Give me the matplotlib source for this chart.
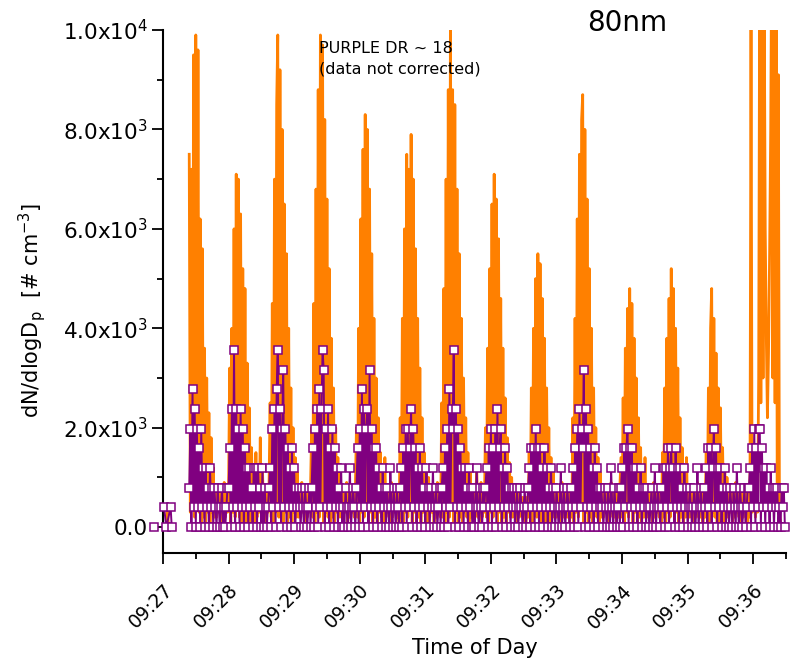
import numpy as np
import matplotlib
matplotlib.use("Agg")
import matplotlib.pyplot as plt
import matplotlib.dates as mdates
from matplotlib.ticker import FuncFormatter, MultipleLocator
from datetime import datetime, timedelta

plt.rcParams['font.family'] = ['DejaVu Sans']
plt.rcParams['mathtext.fontset'] = 'dejavusans'

START = datetime(2000, 1, 1, 9, 27, 0)

# orange trace, values in units of 100 cm-3, one sample per second
orange_early_t0 = 3
orange_early = [0, 4, 0]
orange_t0 = 24
orange = [
    75, 3, 72, 5, 95, 2, 99, 4, 96, 3, 62, 1, 56, 2, 36, 0, 30, 3, 23, 1, 18, 3, 12, 2,
    8, 2, 8, 3, 8, 1, 8, 2, 9, 2, 8, 3, 8,
    32, 1, 40, 3, 60, 2, 71, 4, 70, 2, 63, 1, 52, 3, 48, 0, 33, 2, 24, 1, 16, 3, 12, 1, 15, 2, 12, 3, 18, 2, 12,
    2, 8, 1, 8, 3, 8,
    25, 2, 45, 1, 70, 3, 85, 99, 2, 92, 4, 80, 1, 65, 3, 55, 0, 40, 2, 28, 1, 20, 3, 14, 2, 11, 2,
    8, 2, 9, 3, 8, 1, 8, 2, 8, 3, 8,
    20, 2, 45, 1, 68, 3, 88, 2, 99, 4, 97, 1, 82, 3, 66, 2, 52, 0, 38, 2, 28, 1, 20, 3, 14, 2, 12, 2,
    8, 2, 8, 3, 9, 1, 8, 2, 8, 3, 8, 2, 8,
    20, 2, 40, 1, 62, 3, 76, 2, 83, 4, 80, 1, 68, 3, 55, 0, 42, 2, 30, 1, 22, 3, 15, 2, 12, 1, 14,
    2, 8, 3, 8, 1, 9, 2, 8, 3, 8, 2, 8, 1,
    22, 2, 42, 1, 60, 3, 75, 2, 72, 4, 79, 1, 70, 3, 56, 0, 42, 2, 32, 1, 22, 3, 15, 2, 12, 1, 10,
    2, 8, 3, 8, 1, 8, 2, 9, 3, 8, 2,
    25, 2, 48, 1, 70, 3, 88, 2, 105, 4, 88, 1, 85, 3, 68, 0, 55, 2, 42, 1, 30, 3, 22, 2, 15, 1, 12, 2,
    8, 2, 8, 3, 12, 2, 8, 1, 9, 2, 8, 3,
    20, 2, 36, 1, 52, 3, 65, 2, 71, 4, 66, 1, 58, 3, 46, 0, 36, 2, 26, 1, 18, 3, 13, 2, 10,
    2, 8, 3, 8, 1, 8, 2, 6, 3, 6, 2, 6, 1, 6, 2,
    15, 2, 28, 1, 40, 3, 50, 2, 55, 4, 53, 1, 46, 3, 38, 0, 28, 2, 20, 1, 14, 3, 11, 2,
    8, 2, 8, 3, 8, 1, 9, 2, 8, 3, 8, 2, 8, 1, 8,
    2, 22, 1, 42, 3, 62, 2, 75, 4, 82, 87, 1, 80, 3, 66, 0, 52, 2, 40, 1, 28, 3, 20, 2, 14, 1, 11, 2,
    8, 2, 8, 3, 8, 1, 8, 2, 9, 3, 8, 2, 8, 1, 8, 2, 8,
    14, 2, 26, 1, 36, 3, 44, 2, 48, 4, 45, 1, 38, 3, 30, 0, 22, 2, 16, 1, 12, 2, 14, 2,
    8, 2, 8, 3, 8, 1, 9, 2, 8, 3, 8, 2, 8, 1,
    15, 2, 28, 1, 38, 3, 46, 2, 52, 4, 48, 1, 40, 3, 32, 0, 22, 2, 16, 1, 12, 2, 14, 2,
    8, 2, 8, 3, 8, 1, 8, 2, 9, 3, 8, 2, 8, 1, 8, 2,
    16, 2, 28, 1, 40, 48, 3, 42, 2, 35, 1, 28, 0, 24, 2, 16, 1, 12, 2, 10,
    2, 8, 3, 8, 1, 8, 2, 9, 3, 8, 2, 8, 1, 8, 2, 8, 3, 8, 1, 8, 2, 102, 3, 8,
    8, 2, 8, 3, 30, 120, 25, 115, 30, 110, 60, 38, 22, 35, 55, 80, 120, 30, 120, 25, 115, 4, 91, 3, 1,
]

# purple trace, values in counting steps of 396 cm-3, one sample per second
purple_step = 396
purple_early_t = [-8, -7, 1, 3, 7, 8]
purple_early = [0, np.nan, 1, 0, 1, 0]
purple_t0 = 24
purple = [
    2, 5, 0, 7, 1, 6, 0, 5, 1, 4, 0, 5, 1, 3, 0, 3, 1, 2, 0, 3, 1, 2, 0, 2,
    1, 0, 2, 1, 0, 1, 2, 0, 1, 0, 1, 2,
    2, 4, 0, 6, 1, 9, 0, 6, 1, 5, 0, 6, 1, 5, 0, 4, 1, 3, 0, 3, 1, 2, 0, 3, 1, 3, 0, 3, 1, 2, 0, 3,
    0, 2, 1, 0, 1, 2,
    3, 0, 5, 1, 6, 0, 7, 9, 1, 6, 0, 5, 8, 1, 5, 0, 4, 1, 3, 0, 4, 1, 3, 0, 2, 1, 2,
    1, 0, 2, 1, 0, 2, 1, 0, 1, 2, 0,
    2, 4, 0, 5, 1, 6, 0, 7, 1, 6, 9, 8, 0, 5, 1, 6, 0, 4, 1, 5, 0, 4, 1, 3, 0, 2, 1, 3,
    0, 1, 0, 2, 1, 0, 1, 3, 0, 1, 2, 1, 0,
    2, 4, 0, 5, 1, 7, 0, 6, 1, 5, 6, 0, 8, 1, 5, 0, 4, 1, 4, 0, 3, 1, 2, 0, 3, 1, 2,
    0, 2, 1, 0, 3, 1, 0, 2, 1, 0, 2, 1, 0,
    2, 3, 0, 4, 1, 5, 0, 5, 1, 4, 6, 0, 5, 1, 4, 0, 3, 1, 4, 0, 3, 1, 2, 0, 3, 1, 2,
    0, 2, 1, 3, 0, 1, 2, 0, 1, 2, 0,
    2, 3, 0, 4, 1, 5, 0, 7, 1, 6, 5, 9, 0, 6, 1, 5, 0, 4, 1, 3, 0, 3, 1, 2, 0, 3, 1, 2,
    0, 2, 0, 1, 3, 1, 0, 2, 1, 0, 2, 1,
    2, 3, 0, 4, 1, 5, 0, 4, 1, 5, 0, 6, 1, 4, 5, 0, 3, 1, 4, 0, 3, 1, 2, 0, 2,
    1, 2, 0, 1, 2, 0, 1, 2, 1, 0, 1, 2, 0, 1, 2,
    3, 0, 4, 1, 4, 0, 5, 1, 4, 0, 4, 1, 3, 0, 4, 1, 3, 0, 2, 1, 3, 0, 2, 1,
    0, 2, 1, 0, 1, 3, 0, 1, 2, 0, 1, 2, 1, 0, 2,
    1, 3, 0, 4, 1, 5, 0, 6, 1, 5, 4, 8, 0, 6, 1, 5, 0, 4, 1, 3, 0, 4, 1, 3, 0, 2, 1, 2,
    1, 0, 2, 1, 0, 2, 1, 0, 3, 1, 0, 2, 1, 0, 1, 2, 0,
    2, 3, 0, 4, 1, 4, 5, 0, 4, 1, 4, 0, 3, 1, 3, 0, 2, 1, 3, 0, 2, 1, 2, 0,
    2, 1, 0, 1, 2, 0, 1, 3, 0, 1, 2, 1, 0, 2,
    1, 3, 0, 3, 1, 4, 0, 3, 4, 1, 3, 0, 4, 1, 3, 0, 3, 1, 2, 0, 3, 1, 2, 0,
    1, 2, 1, 0, 1, 2, 0, 1, 3, 0, 1, 2, 1, 0, 2, 1,
    3, 0, 4, 1, 4, 0, 3, 5, 1, 4, 0, 3, 1, 3, 0, 2, 1, 3, 0, 2,
    1, 0, 2, 1, 0, 2, 1, 0, 3, 1, 0, 2, 1, 0, 1, 2, 0, 1, 2,
    2, 3, 0, 4, 1, 5, 0, 4, 1, 5, 5, 0, 4, 1, 3, 0, 3, 1, 2, 0, 3, 1, 2, 0, 2, 1, 2, 0, 1, 0, 2, 1, 2, 0,
]

y_ticks = [0, 2000, 4000, 6000, 8000, 10000]


def to_dates(t0, n):
    return mdates.date2num([START + timedelta(seconds=int(t0 + i)) for i in range(n)])


def sci_label(v, pos):
    if v == 0:
        return "0.0"
    e = int(np.floor(np.log10(v)))
    return f"{v / 10 ** e:.1f}x10$^{{{e}}}$"


# join the early burst and the main record with a gap
o_x = np.concatenate([to_dates(orange_early_t0, len(orange_early)), [np.nan], to_dates(orange_t0, len(orange))])
o_y = np.concatenate([np.array(orange_early) * 100.0, [np.nan], np.array(orange) * 100.0])

p_early_x = mdates.date2num([START + timedelta(seconds=s) for s in purple_early_t])
p_x = np.concatenate([p_early_x, [np.nan], to_dates(purple_t0, len(purple))])
p_y = np.concatenate([np.array(purple_early) * purple_step, [np.nan], np.array(purple) * purple_step])

fig = plt.figure(figsize=(7.94, 6.64), dpi=100)
ax = fig.add_axes([163 / 794, 111 / 664, 623 / 794, 523 / 664])

ax.plot(o_x, o_y, color='#ff8000', linewidth=2.0, zorder=2)
ax.plot(p_x, p_y, color='#800080', linewidth=1.4, marker='s', markersize=5.5,
        markerfacecolor='white', markeredgecolor='#800080', markeredgewidth=1.1,
        zorder=3, clip_on=False)

ax.set_xlim(mdates.date2num(START), mdates.date2num(START + timedelta(seconds=570)))
ax.set_ylim(-520, 10000)

ax.xaxis.set_major_locator(mdates.MinuteLocator())
ax.xaxis.set_minor_locator(mdates.SecondLocator(bysecond=[30]))
ax.xaxis.set_major_formatter(mdates.DateFormatter('%H:%M'))
ax.set_yticks(y_ticks)
ax.yaxis.set_minor_locator(MultipleLocator(1000))
ax.yaxis.set_major_formatter(FuncFormatter(sci_label))

for side in ['top', 'right']:
    ax.spines[side].set_visible(False)
for side in ['left', 'bottom']:
    ax.spines[side].set_linewidth(1.5)

ax.tick_params(axis='both', which='major', length=8, width=1.3, direction='out')
ax.tick_params(axis='both', which='minor', length=4, width=1.3, direction='out')
ax.tick_params(axis='y', which='major', labelsize=15.5, pad=3)
ax.tick_params(axis='x', which='major', labelsize=13.5, pad=12)
for lab in ax.get_xticklabels():
    lab.set_rotation(45)
    lab.set_ha('right')
    lab.set_va('top')
    lab.set_rotation_mode('anchor')

ax.set_xlabel('Time of Day', fontsize=15, labelpad=4)
ax.set_ylabel(r'dN/dlogD$_\mathregular{p}$  [# cm$^{-3}$]', fontsize=15)
ax.yaxis.set_label_coords(-0.185, 0.463)

fig.text(587 / 794, 1 - 31 / 664, '80nm', fontsize=20, va='baseline', ha='left')
fig.text(319 / 794, 1 - 53 / 664, 'PURPLE DR ~ 18', fontsize=11.5, va='baseline', ha='left')
fig.text(319 / 794, 1 - 74 / 664, '(data not corrected)', fontsize=11.5, va='baseline', ha='left')

fig.savefig('out.png', dpi=100)
